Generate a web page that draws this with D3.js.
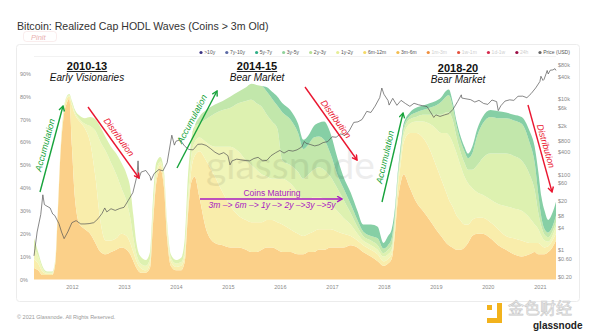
<!DOCTYPE html>
<html><head><meta charset="utf-8">
<script src="https://cdn.jsdelivr.net/npm/d3@7"></script>
<style>
body{margin:0;background:#fff;}
svg{display:block;font-family:"Liberation Sans",Arial,sans-serif;}
</style></head><body>
<svg id="c" width="600" height="332"></svg>
<script>
// ---------- DATA ----------
const years = [2011.27,2011.35,2011.43,2011.52,2011.62,2011.68,2011.73,2011.78,2011.84,2011.90,2011.95,
 2012.00,2012.06,2012.15,2012.25,2012.35,2012.45,2012.55,2012.65,2012.75,2012.85,2012.95,
 2013.05,2013.12,2013.18,2013.24,2013.32,2013.42,2013.50,2013.56,2013.62,2013.70,2013.77,2013.83,2013.90,
 2014.00,2014.10,2014.17,2014.23,2014.29,2014.36,2014.45,2014.58,2014.75,2014.90,
 2015.05,2015.20,2015.35,2015.45,2015.55,2015.65,2015.75,2015.85,2015.95,
 2016.05,2016.20,2016.35,2016.45,2016.55,2016.65,2016.75,2016.85,2016.97,
 2017.10,2017.22,2017.36,2017.49,2017.60,2017.75,2017.88,2017.99,
 2018.08,2018.15,2018.22,2018.26,2018.32,2018.38,2018.50,2018.62,2018.75,2018.88,
 2019.00,2019.10,2019.20,2019.25,2019.32,2019.40,2019.47,2019.55,2019.62,2019.70,2019.80,2019.90,
 2020.05,2020.20,2020.35,2020.50,2020.65,2020.80,2020.90,2020.97,
 2021.03,2021.09,2021.16,2021.24,2021.31];

const v3m6m = [5,4,2,2,2,7,30,55,71,77,79,
 58,35,24,22,20,16,12,11,12,13,14,
 13,11,8,5,3,3,5,25,42,48,40,18,6,
 4,4,8,28,42,45,36,22,16,15,
 14,14,13,12,12,13,14,14,13,
 12,12,11,11,12,12,13,13,14,
 14,14,15,14,12,10,8,6,
 7,9,22,33,42,46,40,34,30,26,
 22,19,16,15,14,13,13,14,16,19,20,20,
 18,15,13,11,10,11,12,11,
 11,11,12,14,17];
const v6m12m = [4,3,1.5,0.5,0.5,1,1,1,1.5,2,1,
 18,37,45,44,40,29,13,6,5,5,6,
 6,5,4,3,2,1,2,3,3,2,3,3,2,
 1.5,2,2,3,5,9,20,30,29,23,
 18,14,13,13,13,12,12,12,12,
 12,10,9,8,8,9,9,9,8,
 7,6,4,3,3,3,3,2,
 2,2,3,5,8,14,24,30,32,31,
 28,25,22,20,18,15,13,10,8,7,7,7,
 7,7,6,7,7,5,4,5,
 4,3,2.5,3,3];
const v1y2y = [5,3,1.5,0.5,0.5,0.5,0.5,0.5,0.5,0.5,0.5,
 1,1,1,2,7,20,35,39,34,28,20,
 15,11,6,3,2,2,2,3,2,1.5,2,2,1.5,
 1.5,1.5,3,5,6,6,6,8,13,20,
 26,28,26,25,23,21,19,18,19,
 20,20,18,16,15,15,14,13,11,
 9,7,5,3,2,2,2,2,
 2,2,2,3,3,3,4,5,7,11,
 16,20,26,28,28,27,24,21,18,14,11,10,
 10,11,13,13,13,11,8,6,
 4,3,2,2,3];
const v2y3y = [4,2,1,0.5,0.5,0.5,0.5,0.5,1,0.5,0.5,
 1,1,1.5,2.5,4,5,6.5,6,7,9,11,
 12,13,10,5,3,2.5,3,5,4,2,2,2,1.5,
 1.5,2,5,9,7,7,6,10,14.5,16,
 17,21,26,28.5,29,29.5,27,25,22,
 8,8,9,9,11,12,13,13,12,
 10,8,5,3,2,2,2,1.5,
 2,2,2,1,1.5,2,2,2,3,4,
 6,8,9,10,10,7,6,6,6,8,12,16,
 20,22,23,23,22,19,15,7,
 4,2.5,2,2,2];
const v3y5y = [0,0,0,0,0,0,0,0,0,0,0,
 0,0,0,0,0,0,0,0,0,0,0,
 0,0,0,0,0,0,0,0,0,0,0,0,0,
 0,0,0,0,0,0,3,4,4,4,
 5,5,6,7,8,9,10,10,10,
 21,20,17,13,13,14,13.5,13,10,
 6,5,4,3,2,2,3,2,
 2,3,2,1.5,1.5,1.5,1.5,2,2,3,
 4,5.5,7,7.5,6,5,5,5,5,7,13,15,
 16,15.5,15.5,15.5,16,14,12,8,
 4,2.5,2,2,3];
const v5y7y = [0,0,0,0,0,0,0,0,0,0,0,
 0,0,0,0,0,0,0,0,0,0,0,
 0,0,0,0,0,0,0,0,0,0,0,0,0,
 0,0,0,0,0,0,0,0,0,0,
 0,0,0,0,0,0,2,3,4,
 4,4,4,4,4,5,6,8,9,
 7.5,5,5,4,3,5,5,2.5,
 4,4,2,1.5,2,1.5,1.5,2,2,2,
 2,2,2.5,2.5,2,2,2,2,2,3,3,3,
 3,3,2.5,2.5,3,5,7,10,
 9,8,5.5,6,6];

const priceYears = [2011.27,2011.33,2011.40,2011.44,2011.47,2011.50,2011.58,2011.63,2011.67,2011.75,2011.80,2011.85,2011.92,
 2012.00,2012.08,2012.17,2012.25,2012.33,2012.42,2012.50,2012.58,2012.63,2012.67,2012.75,2012.83,2012.92,
 2013.00,2013.08,2013.17,2013.25,2013.27,2013.29,2013.33,2013.42,2013.50,2013.52,2013.58,2013.67,2013.75,2013.83,2013.92,2013.97,
 2014.00,2014.08,2014.17,2014.25,2014.33,2014.42,2014.50,2014.58,2014.67,2014.75,2014.83,2014.92,
 2015.00,2015.04,2015.08,2015.17,2015.25,2015.33,2015.42,2015.50,2015.58,2015.67,2015.75,2015.83,2015.92,
 2016.00,2016.08,2016.17,2016.25,2016.33,2016.42,2016.47,2016.50,2016.58,2016.67,2016.75,2016.83,2016.92,
 2017.00,2017.08,2017.17,2017.25,2017.33,2017.42,2017.50,2017.58,2017.67,2017.75,2017.83,2017.92,2017.96,
 2018.00,2018.08,2018.10,2018.17,2018.25,2018.33,2018.42,2018.50,2018.58,2018.67,2018.75,2018.83,2018.92,2018.96,
 2019.00,2019.08,2019.17,2019.25,2019.33,2019.42,2019.49,2019.50,2019.58,2019.67,2019.75,2019.83,2019.92,
 2020.00,2020.08,2020.17,2020.20,2020.25,2020.33,2020.42,2020.50,2020.58,2020.67,2020.75,2020.83,2020.92,
 2021.00,2021.02,2021.06,2021.08,2021.12,2021.14,2021.16,2021.20,2021.25,2021.29,2021.31];
const priceUSD = [0.7,3.0,8.7,29,16,15,13,9,8.2,5,3,2.0,3.0,
 5.3,6.0,4.9,4.9,5.0,5.3,6.7,9.4,13,10.2,12.4,11.2,12.6,
 13.5,20.4,33,93,230,80,116,128,90,70,106,135,125,206,1100,600,
 760,830,560,460,450,630,640,590,480,390,340,380,
 315,180,230,255,245,235,230,265,285,230,237,315,378,
 434,370,435,416,450,535,750,675,625,572,609,700,745,
 998,970,1190,1080,1420,2400,2480,2870,4700,4400,6460,10900,19500,
 13400,9100,6900,10400,6800,9200,7500,6400,7700,7000,6600,6300,4000,3250,
 3800,3450,3800,4100,5300,8600,12900,10600,10100,9600,8300,9200,7600,
 7200,9400,8500,4900,6600,8800,9500,9200,11800,11900,10800,13800,19700,
 29000,40000,31000,33100,47000,57000,46000,58000,58800,63500,57000];

const pctTicks = [0,10,20,30,40,50,60,70,80,90];
const priceTicks = [80000,40000,10000,6000,2000,800,400,100,60,20,8,4,1,0.6,0.2];
const priceTickLabels = ["$80k","$40k","$10k","$6k","$2k","$800","$400","$100","$60","$20","$8","$4","$1","$0.60","$0.20"];
const yearTicks = [2012,2013,2014,2015,2016,2017,2018,2019,2020,2021];

const bandKeys = ["3m-6m","6m-12m","1y-2y","2y-3y","3y-5y","5y-7y"];
const bandColors = ["#fbd089","#f9edab","#f0f5b9","#ddf1b0","#c2e7ab","#86cfa5"];

const legendNames = [">10y","7y-10y","5y-7y","3y-5y","2y-3y","1y-2y","6m-12m","3m-6m","1m-3m","1w-1m","1d-1w","24h","Price (USD)"];
const legendColors = ["#3d3585","#5b6aa5","#2fae87","#8fd19a","#b6df94","#e6ee96","#f5d965","#f3bd4f","#f0903e","#e6533e","#d62b4e","#9b0d45","#666666"];
const legendActive = [1,1,1,1,1,1,1,1,0,0,0,0,1];

// ---------- SETUP ----------
const toDate = t => { const yr = Math.floor(t); const a = new Date(yr,0,1), b = new Date(yr+1,0,1); return new Date(+a + (t-yr)*(b-a)); };
const svg = d3.select("#c");
const x = d3.scaleTime().domain([toDate(2011.27), toDate(2021.31)]).range([34,556]);
const y = d3.scaleLinear().domain([0,100]).range([279.5,50.6]);
const yp = d3.scaleLog().domain([0.2,80000]).range([276.4,64.9]);

// title
svg.append("text").attr("x",17).attr("y",30).attr("font-size",10.6).attr("fill","#333").text("Bitcoin: Realized Cap HODL Waves (Coins > 3m Old)");
svg.append("rect").attr("x",23.5).attr("y",31.5).attr("width",33).attr("height",10).attr("rx",3).attr("fill","none").attr("stroke","#f6e0e0").attr("stroke-width",0.6);
svg.append("text").attr("x",31).attr("y",39.5).attr("font-size",7.5).attr("font-style","italic").attr("fill","#eab0b0").text("Pinit");

// panel
svg.append("rect").attr("x",16.5).attr("y",44.5).attr("width",563).attr("height",257).attr("rx",3).attr("fill","none").attr("stroke","#ececec");
svg.append("line").attr("x1",34).attr("x2",556).attr("y1",56.5).attr("y2",56.5).attr("stroke","#f2f2f2");

// stacked areas
const rows = years.map((t,i)=>{ const r={date:toDate(t)}; const arrs=[v3m6m,v6m12m,v1y2y,v2y3y,v3y5y,v5y7y]; bandKeys.forEach((k,j)=>r[k]=arrs[j][i]); return r; });
const stacked = d3.stack().keys(bandKeys)(rows);
const area = d3.area().x(d=>x(d.data.date)).y0(d=>y(d[0])).y1(d=>y(d[1])).curve(d3.curveMonotoneX);
svg.append("g").selectAll("path").data(stacked).join("path").attr("d",area).attr("fill",(d,i)=>bandColors[i]);

// watermark
svg.append("text").attr("x",206).attr("y",179).attr("font-size",39).attr("font-family","Lato, 'Liberation Sans', sans-serif").attr("font-weight",400).attr("fill","#000").attr("opacity",0.065).text("glassnode");

// price line
const line = d3.line().x((d,i)=>x(toDate(priceYears[i]))).y(d=>yp(d));
svg.append("path").datum(priceUSD).attr("d",line).attr("fill","none").attr("stroke","#555").attr("stroke-width",0.7);

// axes
const axL = svg.append("g").attr("transform","translate(20,0)").call(d3.axisLeft(y).tickValues(pctTicks).tickFormat(d=>d+"%").tickSize(0).tickPadding(0));
const axR = svg.append("g").attr("transform","translate(558,0)").call(d3.axisRight(yp).tickValues(priceTicks).tickFormat((d,i)=>priceTickLabels[i]).tickSize(0).tickPadding(0));
const axB = svg.append("g").attr("transform","translate(0,285)").call(d3.axisBottom(x).tickValues(yearTicks.map(v=>toDate(v))).tickFormat(d3.timeFormat("%Y")).tickSize(0).tickPadding(0));
[axL,axR,axB].forEach(g=>{ g.select(".domain").remove(); g.selectAll("text").attr("fill","#8a8a8a").attr("font-size",5.5).attr("font-family","'Liberation Sans',Arial,sans-serif"); });
axL.selectAll("text").attr("text-anchor","start").attr("x",0);

// legend
const lg = svg.append("g").attr("font-size",5);
let lx = 201;
legendNames.forEach((n,i)=>{
  lg.append("circle").attr("cx",lx).attr("cy",52.5).attr("r",1.6).attr("fill",legendColors[i]);
  const t = lg.append("text").attr("x",lx+3.2).attr("y",54.3).attr("fill",legendActive[i]?"#555":"#cfcfcf").text(n);
  lx += 3.2 + t.node().getComputedTextLength() + 11.6;
});

// arrows
const defs = svg.append("defs");
function marker(id,col){ defs.append("marker").attr("id",id).attr("viewBox","0 0 10 10").attr("refX",8).attr("refY",5).attr("markerWidth",5).attr("markerHeight",5).attr("orient","auto")
  .append("path").attr("d","M1,1 L8,5 L1,9").attr("fill","none").attr("stroke",col).attr("stroke-width",2); }
const G="#17a33b", R="#ea1630", P="#a81bc2";
marker("mg",G); marker("mr",R); marker("mp",P);
function arrow(x1,y1,x2,y2,col,m){ svg.append("line").attr("x1",x1).attr("y1",y1).attr("x2",x2).attr("y2",y2).attr("stroke",col).attr("stroke-width",1.4).attr("marker-end",`url(#${m})`); }
function rlabel(cx,cy,ang,txt,col){ svg.append("text").attr("transform",`translate(${cx},${cy}) rotate(${ang})`).attr("text-anchor","middle").attr("dy","0.35em").attr("font-size",9).attr("font-style","italic").attr("fill",col).text(txt); }
arrow(40,192,63,106,G,"mg"); rlabel(45,145,-75,"Accumulation",G);
arrow(88,107,139,178,R,"mr"); rlabel(119,137,54,"Distribution",R);
arrow(177,168,217,91,G,"mg"); rlabel(192,119,-62,"Accumulation",G);
arrow(305,87,357,160,R,"mr"); rlabel(336,119,54,"Distribution",R);
arrow(382,202,403,113,G,"mg"); rlabel(385,157,-77,"Accumulation",G);
arrow(528,105,552,192,R,"mr"); rlabel(546,146,74,"Distribution",R);
arrow(200,199,342,199,P,"mp");
svg.append("text").attr("x",272).attr("y",196).attr("text-anchor","middle").attr("font-size",8.5).attr("fill",P).text("Coins Maturing");
svg.append("text").attr("x",272).attr("y",208).attr("text-anchor","middle").attr("font-size",8.5).attr("font-style","italic").attr("fill",P).text("3m –> 6m –> 1y –> 2y –>3y –>5y");

// era titles
function era(cx,y1,t1,t2){
  const a = svg.append("text").attr("x",cx).attr("y",y1).attr("text-anchor","middle").attr("font-size",11).attr("font-weight",700).attr("fill","#111").text(t1);
  const w = a.node().getComputedTextLength();
  svg.append("line").attr("x1",cx-w/2).attr("x2",cx+w/2).attr("y1",y1+1.5).attr("y2",y1+1.5).attr("stroke","#111").attr("stroke-width",0.9);
  svg.append("text").attr("x",cx).attr("y",y1+10.5).attr("text-anchor","middle").attr("font-size",10).attr("font-style","italic").attr("fill","#111").text(t2);
}
era(87,70,"2010-13","Early Visionaries");
era(257,70,"2014-15","Bear Market");
era(458,72,"2018-20","Bear Market");

// footer
svg.append("text").attr("x",17).attr("y",319).attr("font-size",5.5).attr("fill","#999").text("© 2021 Glassnode. All Rights Reserved.");
svg.append("rect").attr("x",487).attr("y",305).attr("width",5).attr("height",5).attr("fill","#f2b21c");
svg.append("path").attr("d","M497,303 h5 v20 h-15 v-5 h10 z").attr("fill","#f2b21c");
svg.append("text").attr("x",508).attr("y",314).attr("font-size",16).attr("font-family","'Noto Sans CJK SC',sans-serif").attr("fill","#f4f4f4").attr("stroke","#c9c9c9").attr("stroke-width",0.6).text("金色财经");
svg.append("text").attr("x",533).attr("y",329).attr("font-size",10).attr("font-weight",700).attr("fill","#222").text("glassnode");
</script>
</body></html>
